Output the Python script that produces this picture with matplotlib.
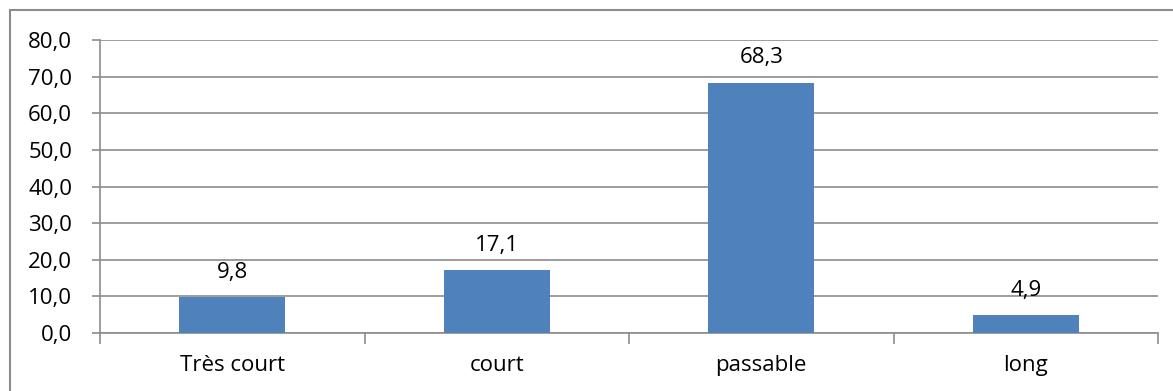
import matplotlib.pyplot as plt
from matplotlib.patches import Rectangle

categories = ['Très court', 'court', 'passable', 'long']
values = [9.8, 17.1, 68.3, 4.9]
yticks = [0, 10, 20, 30, 40, 50, 60, 70, 80]

plt.rcParams['font.family'] = ['Open Sans', 'DejaVu Sans']
FS = 16

fig = plt.figure(figsize=(11.73, 3.91), dpi=100)
W, H = 1173, 391

# outer chart frame (runs off the right and bottom edges)
fig.patches.append(Rectangle((10 / W, -0.05), 1.2, 1 - 10 / H + 0.05,
                             transform=fig.transFigure, fill=False,
                             edgecolor='#8c8c8c', linewidth=1.5))

ax = fig.add_axes([100 / W, (H - 333) / H, (1158 - 100) / W, (333 - 40) / H])

x = range(len(categories))
ax.bar(x, values, width=0.4, color='#4F81BD', zorder=3)
for xi, v in zip(x, values):
    ax.annotate(f'{v:.1f}'.replace('.', ','), (xi, v), xytext=(0, 14),
                textcoords='offset points', ha='center', va='baseline',
                fontsize=FS, color='black')

ax.set_xlim(-0.5, len(categories) - 0.5)
ax.set_ylim(0, 80)
ax.set_yticks(yticks)
ax.set_yticklabels([f'{t:.1f}'.replace('.', ',') for t in yticks], fontsize=FS)
ax.set_xticks(list(x))
ax.set_xticklabels(categories, fontsize=FS)
ax.tick_params(axis='x', length=0, pad=16)
ax.tick_params(axis='y', length=6, color='#8c8c8c', width=1.2, pad=14)

# category boundary ticks under the x axis
ax.set_xticks([i - 0.5 for i in range(len(categories) + 1)], minor=True)
ax.tick_params(axis='x', which='minor', length=8, color='#8c8c8c', width=1.2)

ax.grid(axis='y', color='#8c8c8c', linewidth=1.2, zorder=0)
for s in ['top', 'right']:
    ax.spines[s].set_visible(False)
for s in ['left', 'bottom']:
    ax.spines[s].set_color('#8c8c8c')
    ax.spines[s].set_linewidth(1.2)

fig.savefig('out.png', dpi=100)
